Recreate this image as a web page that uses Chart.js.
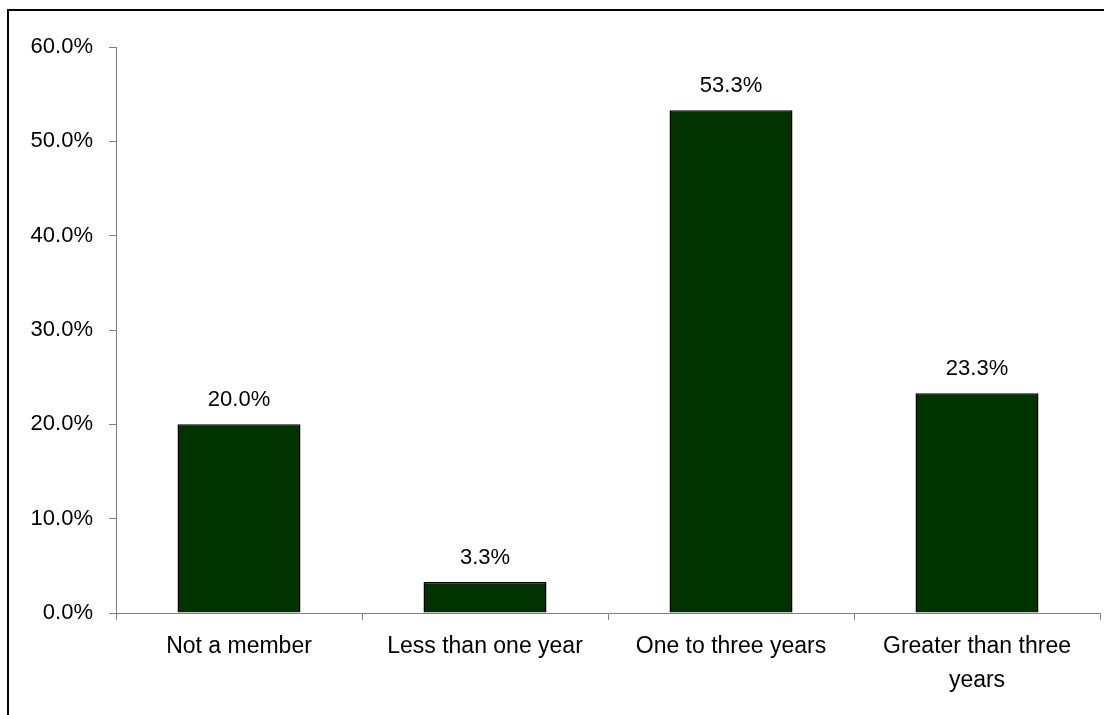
<!DOCTYPE html>
<html>
<head>
<meta charset="utf-8">
<script src="https://cdn.jsdelivr.net/npm/chart.js@4"></script>
<style>
html,body{margin:0;padding:0;background:#fff;}
#wrap{position:relative;width:1104px;height:715px;}
</style>
</head>
<body>
<div id="wrap"><canvas id="c" width="1104" height="715"></canvas></div>
<script>
const categories = ["Not a member", "Less than one year", "One to three years", ["Greater than three", "years"]];
const values = [20.0, 3.3, 53.3, 23.3];
const yTicks = [0, 10, 20, 30, 40, 50, 60];

const FONT = "'Liberation Sans', Arial, sans-serif";

const frame = {
  id: 'frame',
  afterDraw(chart) {
    const ctx = chart.ctx;
    ctx.save();
    ctx.fillStyle = '#000';
    ctx.fillRect(7, 9, 1104 - 7, 2);
    ctx.fillRect(7, 9, 2, 715 - 9);
    ctx.restore();
  }
};

const labels = {
  id: 'barLabels',
  afterDatasetsDraw(chart) {
    const ctx = chart.ctx;
    const meta = chart.getDatasetMeta(0);
    ctx.save();
    ctx.font = '22px ' + FONT;
    ctx.fillStyle = '#000';
    ctx.textAlign = 'center';
    ctx.textBaseline = 'alphabetic';
    meta.data.forEach((bar, i) => {
      ctx.fillText(values[i].toFixed(1) + '%', bar.x, bar.y - 18);
    });
    ctx.restore();
  }
};

new Chart(document.getElementById('c'), {
  type: 'bar',
  data: {
    labels: categories,
    datasets: [{
      data: values,
      backgroundColor: '#003300',
      borderColor: '#000',
      borderWidth: 1.5,
      barPercentage: 0.5,
      categoryPercentage: 1.0
    }]
  },
  options: {
    responsive: false,
    animation: false,
    layout: { padding: { left: 0, right: 4, top: 47, bottom: 0 } },
    plugins: { legend: { display: false }, tooltip: { enabled: false }, title: { display: false } },
    scales: {
      y: {
        min: 0, max: 60,
        afterFit(s) { s.width = 116; },
        afterBuildTicks(s) { s.ticks = yTicks.map(v => ({ value: v })); },
        border: { display: true, color: '#808080', width: 1 },
        grid: { drawOnChartArea: false, drawTicks: true, tickLength: 7, color: '#808080' },
        ticks: {
          padding: 16,
          color: '#000',
          font: { family: FONT, size: 22 },
          callback: v => v.toFixed(1) + '%'
        }
      },
      x: {
        afterFit(s) { s.height = 102; },
        border: { display: true, color: '#808080', width: 1 },
        grid: { drawOnChartArea: false, drawTicks: true, tickLength: 7, color: '#808080', offset: true },
        ticks: {
          padding: 10,
          color: '#000',
          maxRotation: 0,
          autoSkip: false,
          font: { family: FONT, size: 23, lineHeight: '34px' }
        }
      }
    }
  },
  plugins: [frame, labels]
});
</script>
</body>
</html>
